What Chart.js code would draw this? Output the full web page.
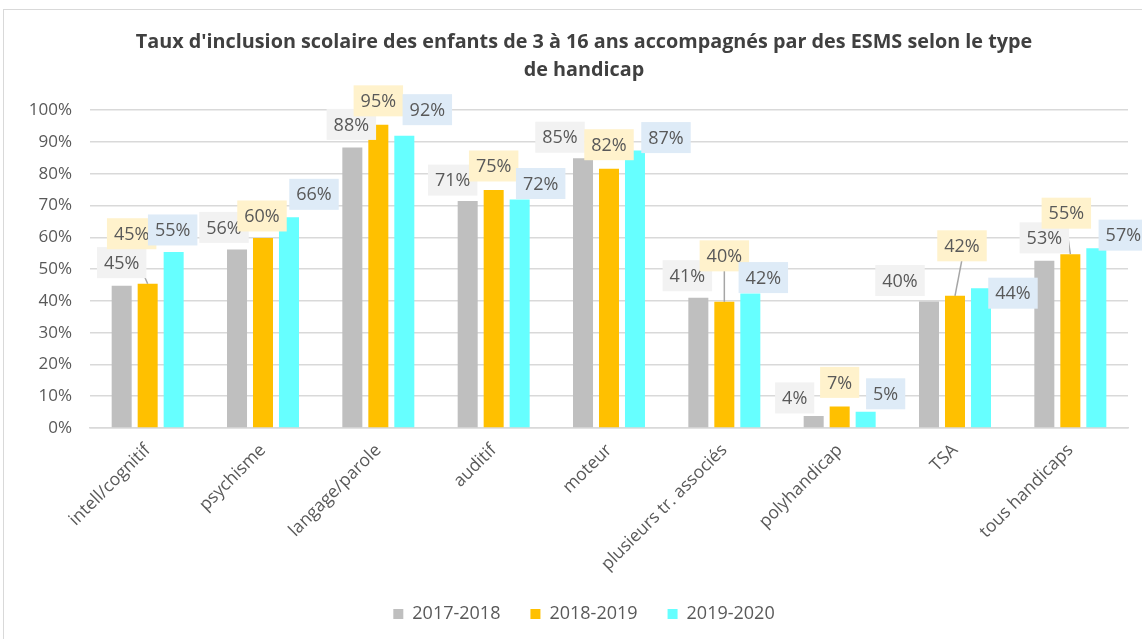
<!DOCTYPE html>
<html>
<head>
<meta charset="utf-8">
<script src="https://cdn.jsdelivr.net/npm/chart.js@4"></script>
<style>
  html, body { margin: 0; padding: 0; background: #fff; }
  #wrap { position: relative; width: 1142px; height: 639px; overflow: hidden; }
  #frame { position: absolute; left: 3px; top: 9px; width: 1160px; height: 660px; border: 1px solid #d9d9d9; box-sizing: border-box; }
  canvas { position: absolute; left: 0; top: 0; }
</style>
</head>
<body>
<div id="wrap">
  <div id="frame"></div>
  <canvas id="inclusionChart" width="1142" height="639"></canvas>
</div>
<script>
const categories = ['intell/cognitif', 'psychisme', 'langage/parole', 'auditif', 'moteur',
    'plusieurs tr. associés', 'polyhandicap', 'TSA', 'tous handicaps'];
const seriesNames = ['2017-2018', '2018-2019', '2019-2020'];
const values2017 = [44.8, 56.2, 88.3, 71.4, 84.9, 41.0, 3.8, 39.8, 52.6];
const values2018 = [45.4, 59.8, 95.4, 74.9, 81.6, 39.7, 6.8, 41.6, 54.7];
const values2019 = [55.4, 66.3, 92.0, 71.9, 87.3, 42.3, 5.1, 44.0, 56.6];
const yTicks = [0, 10, 20, 30, 40, 50, 60, 70, 80, 90, 100];

const barColors = ['#bfbfbf', '#ffc000', '#66ffff'];
const labelFills = ['#f2f2f2', '#fff2cc', '#deebf7'];

// where Excel's labels were dragged to, relative to the bar top (px)
const labelShift = [
    [[0, -23], [-13, -22], [-1, -23], [-15, -21], [-23, -21], [-11, -22], [-19, -18], [-29, -21], [0, -23]],
    [[-16, -50], [-1, -22], [0, -24], [0, -24], [0, -24], [0, -46], [0, -24], [7, -50], [-4, -41]],
    [[-1, -22], [25, -23], [23, -26], [21, -16], [31, -13], [13, -16], [20, -18], [32, 5], [27, -13]]
];

const textColor = '#595959';

const boxedLabels = {
    id: 'boxedLabels',
    afterDatasetsDraw(chart) {
        const ctx = chart.ctx;
        ctx.save();
        ctx.font = '18px "Open Sans"';
        ctx.textAlign = 'center';
        ctx.textBaseline = 'middle';
        const h = 31;
        // leader lines first, boxes go over them
        chart.data.datasets.forEach((ds, i) => {
            chart.getDatasetMeta(i).data.forEach((bar, j) => {
                const [dx, dy] = labelShift[i][j];
                if (Math.abs(dy) > 35) {
                    ctx.strokeStyle = '#a6a6a6';
                    ctx.lineWidth = 1.5;
                    ctx.beginPath();
                    ctx.moveTo(bar.x + dx, bar.y + dy + h / 2 - 2);
                    ctx.lineTo(bar.x, bar.y);
                    ctx.stroke();
                }
            });
        });
        chart.data.datasets.forEach((ds, i) => {
            chart.getDatasetMeta(i).data.forEach((bar, j) => {
                const [dx, dy] = labelShift[i][j];
                const text = Math.round(ds.data[j]) + '%';
                const w = ctx.measureText(text).width + 14;
                const cx = bar.x + dx, cy = bar.y + dy;
                ctx.fillStyle = labelFills[i];
                ctx.fillRect(cx - w / 2, cy - h / 2, w, h);
                ctx.fillStyle = textColor;
                ctx.fillText(text, cx, cy + 1);
            });
        });
        ctx.restore();
    }
};

new Chart(document.getElementById('inclusionChart'), {
    type: 'bar',
    data: {
        labels: categories,
        datasets: [values2017, values2018, values2019].map((vals, i) => ({
            label: seriesNames[i],
            data: vals,
            backgroundColor: barColors[i],
            borderWidth: 0,
            categoryPercentage: 0.676,
            barPercentage: 0.77
        }))
    },
    options: {
        responsive: false,
        animation: false,
        layout: { padding: { left: 40, right: 14, top: 0, bottom: 6 } },
        plugins: {
            title: {
                display: true,
                text: ["Taux d'inclusion scolaire des enfants de 3 à 16 ans accompagnés par des ESMS selon le type",
                       'de handicap'],
                color: '#404040',
                font: { family: 'Open Sans', size: 19.8, weight: 'bold', lineHeight: 1.42 },
                padding: { top: 28, bottom: 26 }
            },
            legend: {
                position: 'bottom',
                labels: {
                    color: textColor,
                    font: { family: 'Open Sans', size: 18 },
                    boxWidth: 10,
                    boxHeight: 10,
                    padding: 30
                }
            },
            tooltip: { enabled: false }
        },
        scales: {
            x: {
                grid: { display: false },
                border: { color: '#d9d9d9', width: 1.5 },
                ticks: {
                    color: textColor,
                    font: { family: 'Open Sans', size: 17.5 },
                    minRotation: 45,
                    maxRotation: 45,
                    padding: 4
                },
                afterFit(scale) { scale.height = 147; }
            },
            y: {
                min: 0,
                max: 100,
                afterBuildTicks(scale) { scale.ticks = yTicks.map(v => ({ value: v })); },
                ticks: {
                    color: textColor,
                    font: { family: 'Open Sans', size: 17 },
                    callback: v => v + '%',
                    padding: 18
                },
                grid: { color: '#d9d9d9', lineWidth: 1.5, drawTicks: false },
                border: { display: false },
                afterFit(scale) {
                    scale.width = 50;
                    // the tick labels stick out past the narrow axis box, don't clip them
                    scale._computeLabelArea = () => undefined;
                }
            }
        }
    },
    plugins: [boxedLabels]
});
</script>
</body>
</html>
